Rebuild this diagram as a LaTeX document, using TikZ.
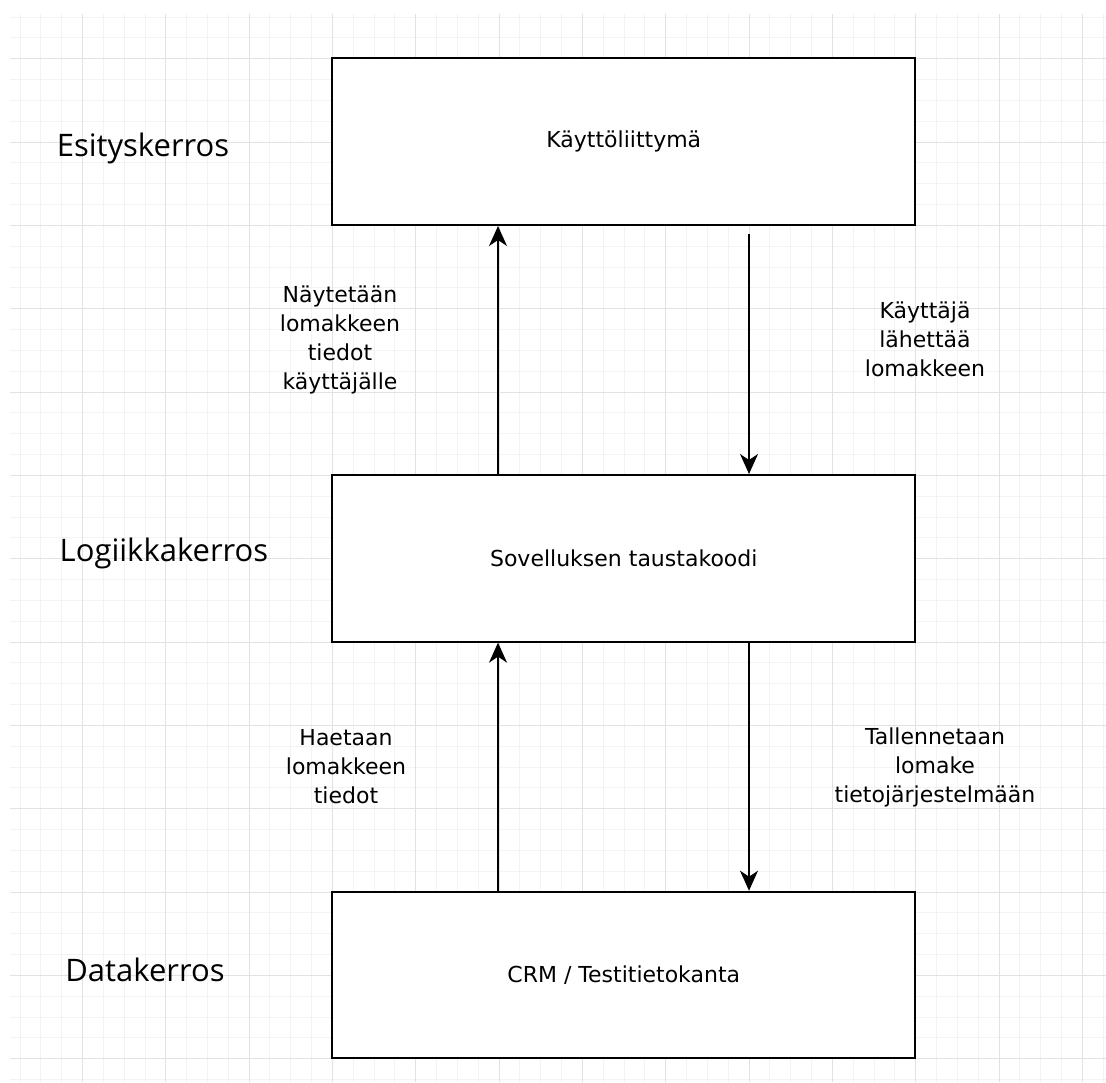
\documentclass[tikz,border=0pt]{standalone}
\usepackage{fontspec}
\setmainfont{DejaVu Sans}
\newfontfamily\layerfont{Open Sans}
\usetikzlibrary{arrows.meta}
\definecolor{gridmajor}{HTML}{E2E2E2}
\definecolor{gridminor}{HTML}{F3F3F3}
\begin{document}
\begin{tikzpicture}[x=0.5pt,y=-0.5pt,
  layerbox/.style={draw=black,line width=1pt,fill=white,minimum width=291.67pt,minimum height=83.33pt,inner sep=0pt,font=\fontsize{11}{14.5}\selectfont},
  layerlabel/.style={font=\layerfont\fontsize{15.5}{18}\selectfont,inner sep=0pt},
  flowlabel/.style={align=center,font=\fontsize{11}{14.5}\selectfont,inner sep=0pt},
  flowarrow/.style={line width=0.75pt,-{Stealth[length=10pt,width=9pt,inset=3pt]}}]
\useasboundingbox (0,0) rectangle (1106,1082);
\fill[white] (0,0) rectangle (1106,1082);
% grid
\foreach \i in {1,...,53}{
  \pgfmathsetmacro{\gx}{round(-1.333+20.8333*\i)+0.5}
  \draw[gridminor,line width=0.5pt] (\gx,14) -- (\gx,1082);
}
\foreach \i in {2,...,53}{
  \pgfmathsetmacro{\gy}{round(-25+20.8333*\i)+0.5}
  \draw[gridminor,line width=0.5pt] (10,\gy) -- (1106,\gy);
}
\foreach \i in {1,...,13}{
  \pgfmathsetmacro{\gx}{round(-1.333+83.333*\i)+0.5}
  \draw[gridmajor,line width=0.5pt] (\gx,14) -- (\gx,1082);
}
\foreach \i in {1,...,13}{
  \pgfmathsetmacro{\gy}{round(-25+83.333*\i)+0.5}
  \draw[gridmajor,line width=0.5pt] (10,\gy) -- (1106,\gy);
}
% boxes
\node[layerbox] (ui) at (623.75,141.7) {Käyttöliittymä};
\node[layerbox] (logic) at (623.75,558.3) {Sovelluksen taustakoodi};
\node[layerbox] (data) at (623.75,975) {CRM / Testitietokanta};
% layer labels
\node[layerlabel] (l1) at (143,148) {Esityskerros};
\node[layerlabel] (l2) at (164,553) {Logiikkakerros};
\node[layerlabel] (l3) at (145,970) {Datakerros};
% arrow x positions
\coordinate (ux) at (498,0);
\coordinate (dx) at (749,0);
\draw[flowarrow] (logic.north -| ux) -- (ui.south -| ux);
\draw[flowarrow] ([yshift=-4pt]ui.south -| dx) -- (logic.north -| dx);
\draw[flowarrow] (data.north -| ux) -- (logic.south -| ux);
\draw[flowarrow] (logic.south -| dx) -- (data.north -| dx);
% arrow labels
\node[flowlabel] (t1) at (340,340) {Näytetään\\lomakkeen\\tiedot\\käyttäjälle};
\node[flowlabel] (t2) at (925,339) {Käyttäjä\\lähettää\\lomakkeen};
\node[flowlabel] (t3) at (346,767) {Haetaan\\lomakkeen\\tiedot};
\node[flowlabel] (t4) at (935,767) {Tallennetaan\\lomake\\tietojärjestelmään};
\end{tikzpicture}
\end{document}
